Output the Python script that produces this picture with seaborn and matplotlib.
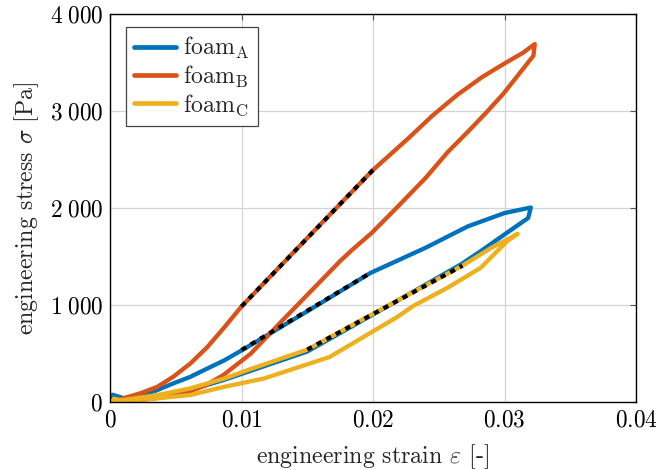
import numpy as np
import pandas as pd
import matplotlib
matplotlib.use("Agg")
import matplotlib.pyplot as plt
import seaborn as sns

# ---------------- data ----------------
foams = ["A", "B", "C"]
labels = [r"foam$_\mathrm{A}$", r"foam$_\mathrm{B}$", r"foam$_\mathrm{C}$"]
colors = ["#0072BD", "#D95319", "#EDB120"]

strain_A_load = [0.0, 0.0023, 0.0036, 0.0048, 0.0061, 0.0074, 0.0087, 0.0101, 0.0150, 0.0198,
                 0.0240, 0.0272, 0.0300, 0.0320]
stress_A_load = [0, 61, 123, 191, 259, 345, 430, 539, 935, 1330, 1590, 1810, 1948, 2005]
strain_A_unload = [0.0318, 0.0300, 0.0282, 0.0267, 0.0218, 0.0150, 0.0107, 0.0086, 0.0061,
                   0.0036, 0.0015, 0.0002, 0.0001]
stress_A_unload = [1897, 1727, 1556, 1420, 1040, 520, 322, 225, 125, 60, 20, 75, 0]

strain_B_load = [0.0, 0.0023, 0.0036, 0.0048, 0.0061, 0.0074, 0.0087, 0.0100, 0.0150, 0.0200,
                 0.0227, 0.0245, 0.0264, 0.0283, 0.0300, 0.0314, 0.0323]
stress_B_load = [0, 89, 157, 259, 396, 566, 771, 985, 1690, 2392, 2720, 2950, 3165, 3350,
                 3490, 3600, 3690]
strain_B_unload = [0.0322, 0.0310, 0.0299, 0.0286, 0.0272, 0.0257, 0.0240, 0.0217, 0.0199,
                   0.0184, 0.0175, 0.0129, 0.0107, 0.0099, 0.0086, 0.0073, 0.0060, 0.0048,
                   0.0023, 0.0008, 0.0003, 0.0001]
stress_B_unload = [3570, 3364, 3176, 2982, 2784, 2579, 2310, 1989, 1743, 1567, 1453, 811, 498,
                   413, 276, 174, 105, 61, 20, 5, -40, -115]

strain_C_load = [0.0, 0.0036, 0.0061, 0.0087, 0.0107, 0.0150, 0.0219, 0.0268, 0.0290, 0.0310]
stress_C_load = [0, 72, 140, 242, 340, 540, 1050, 1405, 1590, 1733]
strain_C_unload = [0.0302, 0.0282, 0.0257, 0.0231, 0.0218, 0.0167, 0.0117, 0.0087, 0.0061,
                   0.0036, 0.0010, 0.0003, 0.0001]
stress_C_unload = [1658, 1385, 1180, 993, 873, 464, 242, 157, 72, 38, 10, 35, -35]

# linear fits (black dashed)
fit_A_strain = [0.0100, 0.0198]
fit_A_stress = [536, 1330]
fit_B_strain = [0.0100, 0.0200]
fit_B_stress = [985, 2392]
fit_C_strain = [0.0150, 0.0268]
fit_C_stress = [540, 1405]

xticks = [0, 0.01, 0.02, 0.03, 0.04]
xticklabels = ["$0$", "$0.01$", "$0.02$", "$0.03$", "$0.04$"]
yticks = [0, 1000, 2000, 3000, 4000]
yticklabels = ["$0$", r"$1\;000$", r"$2\;000$", r"$3\;000$", r"$4\;000$"]

# ---------------- build tables ----------------
rows = []
for f, lab, (xl, yl, xu, yu) in zip(
        foams, labels,
        [(strain_A_load, stress_A_load, strain_A_unload, stress_A_unload),
         (strain_B_load, stress_B_load, strain_B_unload, stress_B_unload),
         (strain_C_load, stress_C_load, strain_C_unload, stress_C_unload)]):
    xs = list(xl) + list(xu)
    ys = list(yl) + list(yu)
    for i, (a, b) in enumerate(zip(xs, ys)):
        rows.append({"strain": a, "stress": b, "foam": lab, "order": i})
df = pd.DataFrame(rows)

fits = pd.DataFrame({
    "strain": fit_A_strain + fit_B_strain + fit_C_strain,
    "stress": fit_A_stress + fit_B_stress + fit_C_stress,
    "fit": ["A"] * 2 + ["B"] * 2 + ["C"] * 2,
})

# ---------------- style ----------------
sns.set_theme(style="white")
plt.rcParams["font.family"] = ["cmr10"]
plt.rcParams["mathtext.fontset"] = "cm"
plt.rcParams["axes.formatter.use_mathtext"] = True
plt.rcParams["axes.unicode_minus"] = False
FS = 17.2
TFS = 16.8

fig = plt.figure(figsize=(6.56, 4.70), dpi=100)
ax = fig.add_axes([110 / 656, 1 - 402 / 470, 526 / 656, 388 / 470])

sns.lineplot(data=df, x="strain", y="stress", hue="foam", sort=False, estimator=None,
             palette=dict(zip(labels, colors)), hue_order=labels, lw=3.1, ax=ax,
             legend=True)
for f in ["A", "B", "C"]:
    sns.lineplot(data=fits[fits["fit"] == f], x="strain", y="stress", color="black",
                 lw=3.0, sort=False, estimator=None, legend=False, ax=ax,
                 linestyle=(0, (1.3, 1.3)), dash_capstyle="butt")

ax.set_xlim(0, 0.04)
ax.set_ylim(0, 4000)
ax.set_xticks(xticks)
ax.set_xticklabels(xticklabels)
ax.set_yticks(yticks)
ax.set_yticklabels(yticklabels)
ax.tick_params(axis="both", direction="in", length=4, width=0.8, color="#555555",
               labelsize=TFS, top=True, right=True, pad=5, labelcolor="black")
ax.grid(True, color="#d4d4d4", lw=0.9)
ax.set_axisbelow(True)
for s in ax.spines.values():
    s.set_color("black")
    s.set_linewidth(1.0)

ax.set_xlabel(r"engineering strain $\varepsilon$ [-]", fontsize=FS, labelpad=8)
ax.set_ylabel(r"engineering stress $\sigma$ [Pa]", fontsize=FS, labelpad=6)

handles, _ = ax.get_legend_handles_labels()
leg = ax.legend(handles[:3], labels, loc="upper left",
                bbox_to_anchor=(16 / 526, 1 - 13 / 388), borderaxespad=0,
                fontsize=FS, frameon=True, fancybox=False, framealpha=1,
                edgecolor="#444444", handlelength=1.75, handletextpad=0.3,
                labelspacing=0.1, borderpad=0.35)
leg.get_frame().set_linewidth(0.9)
for h in leg.get_lines():
    h.set_linewidth(3.4)

fig.savefig("out.png", dpi=100)
